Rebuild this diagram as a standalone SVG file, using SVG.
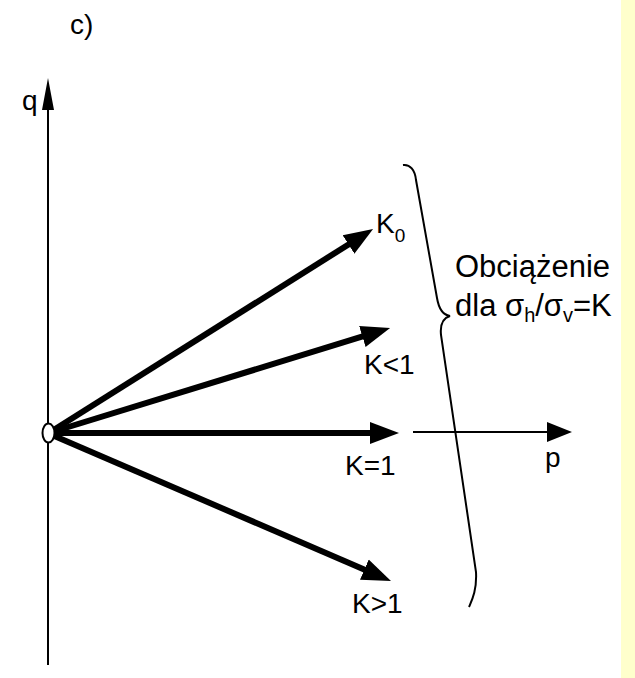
<svg xmlns="http://www.w3.org/2000/svg" width="635" height="678" viewBox="0 0 635 678">
<style>
text{font-family:"Liberation Sans",Arial,sans-serif;font-size:28px;fill:#000}
.big{font-size:31px}
.thick{stroke:#000;stroke-width:6;fill:none}
.thin{stroke:#000;stroke-width:2;fill:none}
</style>
<defs>
<marker id="big" markerUnits="userSpaceOnUse" markerWidth="32" markerHeight="26" viewBox="0 -13 32 26" refX="8" refY="0" orient="auto"><path d="M0,-11 L29,0 L0,11 z" fill="#000"/></marker>
<marker id="ax" markerUnits="userSpaceOnUse" markerWidth="30" markerHeight="24" viewBox="0 -12 30 24" refX="4" refY="0" orient="auto"><path d="M0,-10 L25,0 L0,10 z" fill="#000"/></marker>
<marker id="axq" markerUnits="userSpaceOnUse" markerWidth="34" markerHeight="16" viewBox="0 -8 34 16" refX="4" refY="0" orient="auto"><path d="M0,-6 L32,0 L0,6 z" fill="#000"/></marker>
</defs>
<rect x="621" y="0" width="14" height="678" fill="#FFFFCC"/>
<text x="70" y="34">c)</text>
<g id="connectors">
<line class="thin" x1="48" y1="665" x2="48" y2="106" marker-end="url(#axq)"/>
<line class="thin" x1="413" y1="432" x2="551" y2="432" marker-end="url(#ax)"/>
<line class="thick" x1="52" y1="431" x2="355.3" y2="240.2" marker-end="url(#big)"/>
<line class="thick" x1="52" y1="432" x2="370" y2="334.2" marker-end="url(#big)"/>
<line class="thick" x1="52" y1="433" x2="378" y2="433" marker-end="url(#big)"/>
<line class="thick" x1="52" y1="435" x2="371.7" y2="572.7" marker-end="url(#big)"/>
</g>
<g id="origin"><ellipse cx="48.5" cy="433" rx="6" ry="9.5" fill="#fff" stroke="#000" stroke-width="2"/></g>
<g id="q-label"><text x="22" y="110">q</text></g>
<g id="p-label"><text x="545" y="467">p</text></g>
<g id="K0"><text x="376" y="233">K<tspan font-size="19" dy="9">0</tspan></text></g>
<g id="Klt1"><text x="364" y="374">K&lt;1</text></g>
<g id="Keq1"><text x="345" y="475">K=1</text></g>
<g id="Kgt1"><text x="352" y="613">K&gt;1</text></g>
<g id="brace">
<path class="thin" d="M403,165 C410,164 415,170 416,180 L437,298 C439,310 443,315 450,316 C443,318 440,325 441,335 L476,572 C477,590 472,600 469,607"/>
<text class="big" x="455" y="277">Obciążenie</text>
<text class="big" x="455" y="316">dla σ<tspan font-size="20" dy="6">h</tspan><tspan dy="-6">/σ</tspan><tspan font-size="20" dy="6">v</tspan><tspan dy="-6">=K</tspan></text>
</g>
</svg>
